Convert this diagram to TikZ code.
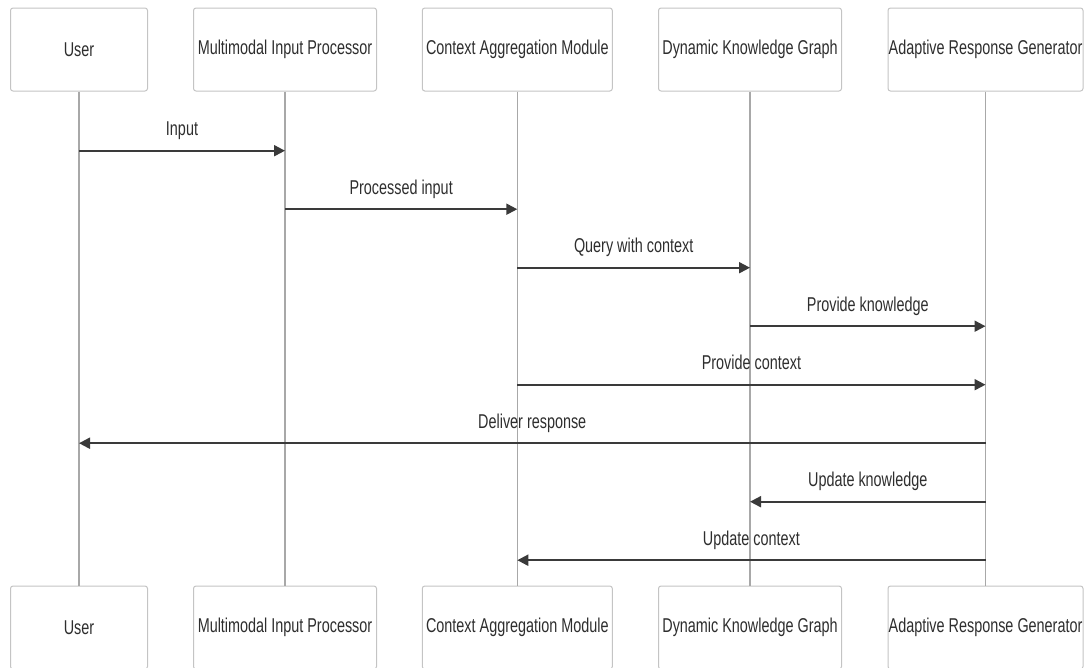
\documentclass[tikz,border=0pt]{standalone}
\usepackage{fontspec}
\setmainfont{Liberation Sans}
\usetikzlibrary{arrows.meta}
\definecolor{txt}{HTML}{2E2E2E}
\definecolor{boxline}{HTML}{C4C4C4}
\definecolor{life}{HTML}{A8A8A8}
\definecolor{msgc}{HTML}{3A3A3A}
\newcommand\sq[1]{\scalebox{0.72}[1]{#1}}
\begin{document}
\begin{tikzpicture}[x=1pt,y=-1pt,
  actor/.style={draw=boxline, line width=1pt, fill=white, rounded corners=2.5pt,
    minimum height=83pt, inner sep=0pt, text=txt, font=\fontsize{20}{24}\selectfont},
  lifeline/.style={draw=life, line width=1.4pt},
  msg/.style={draw=msgc, line width=2pt, -{Triangle[length=11pt,width=11pt]}},
  lab/.style={anchor=base, yshift=15pt, text=txt, font=\fontsize{20}{24}\selectfont, inner sep=0pt}]
\useasboundingbox (0,0) rectangle (1084,667);
% top actors
\node[actor, minimum width=137pt] (uT) at (79,49.5) {\makebox[0pt]{\sq{User}}};
\node[actor, minimum width=183pt] (mT) at (285,49.5) {\makebox[0pt]{\sq{Multimodal Input Processor}}};
\node[actor, minimum width=190pt] (cT) at (517.3,49.5) {\makebox[0pt]{\sq{Context Aggregation Module}}};
\node[actor, minimum width=183pt] (dT) at (750,49.5) {\makebox[0pt]{\sq{Dynamic Knowledge Graph}}};
\node[actor, minimum width=195pt] (aT) at (985.5,49.5) {\makebox[0pt]{\sq{Adaptive Response Generator}}};
% bottom actors
\node[actor, minimum width=137pt] (uB) at (79,627.5) {\makebox[0pt]{\sq{User}}};
\node[actor, minimum width=183pt] (mB) at (285,627.5) {\makebox[0pt]{\sq{Multimodal Input Processor}}};
\node[actor, minimum width=190pt] (cB) at (517.3,627.5) {\makebox[0pt]{\sq{Context Aggregation Module}}};
\node[actor, minimum width=183pt] (dB) at (750,627.5) {\makebox[0pt]{\sq{Dynamic Knowledge Graph}}};
\node[actor, minimum width=195pt] (aB) at (985.5,627.5) {\makebox[0pt]{\sq{Adaptive Response Generator}}};
% lifelines
\draw[lifeline] (uT) -- (uB);
\draw[lifeline] (mT) -- (mB);
\draw[lifeline] (cT) -- (cB);
\draw[lifeline] (dT) -- (dB);
\draw[lifeline] (aT) -- (aB);
% message rows
\coordinate (r1) at (0,150.7);
\coordinate (r2) at (0,209.2);
\coordinate (r3) at (0,267.7);
\coordinate (r4) at (0,326.2);
\coordinate (r5) at (0,384.7);
\coordinate (r6) at (0,443.2);
\coordinate (r7) at (0,501.7);
\coordinate (r8) at (0,560.2);
% messages
\draw[msg] (uT |- r1) -- node[lab]{\sq{Input}} (mT |- r1);
\draw[msg] (mT |- r2) -- node[lab]{\sq{Processed input}} (cT |- r2);
\draw[msg] (cT |- r3) -- node[lab]{\sq{Query with context}} (dT |- r3);
\draw[msg] (dT |- r4) -- node[lab]{\sq{Provide knowledge}} (aT |- r4);
\draw[msg] (cT |- r5) -- node[lab]{\sq{Provide context}} (aT |- r5);
\draw[msg] (aT |- r6) -- node[lab]{\sq{Deliver response}} (uT |- r6);
\draw[msg] (aT |- r7) -- node[lab]{\sq{Update knowledge}} (dT |- r7);
\draw[msg] (aT |- r8) -- node[lab]{\sq{Update context}} (cT |- r8);
\end{tikzpicture}
\end{document}
